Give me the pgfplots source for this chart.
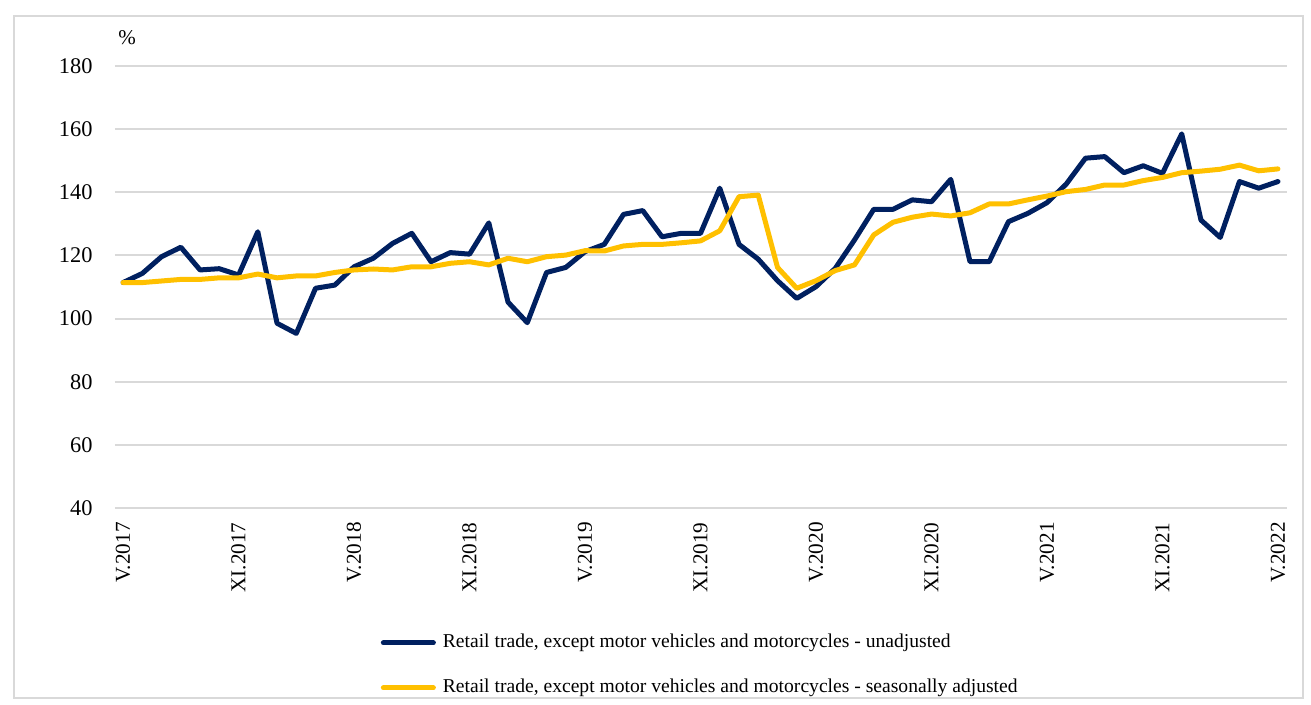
\documentclass[border=0pt]{standalone}
\usepackage{pgfplots}
\pgfplotsset{compat=1.18}
\usepackage{fontspec}
\setmainfont{Liberation Serif}
\definecolor{navy}{HTML}{002060}
\definecolor{gold}{HTML}{FFC000}
\definecolor{gridgray}{HTML}{D9D9D9}
\begin{document}
\begin{tikzpicture}
\begin{scope}[x=0.5pt,y=0.5pt]
\path[use as bounding box] (0,0) rectangle (1311,705);
\draw[gridgray, line width=0.8pt] (14,689) rectangle (1303,7);
\node[font=\fontsize{10.5}{12}\selectfont] at (127,667) {\%};
\end{scope}
\begin{axis}[
  at={(57.5pt,98.5pt)}, anchor=south west,
  scale only axis, width=586pt, height=221pt,
  xmin=-0.42, xmax=60.47, ymin=40, ymax=180,
  ytick={40,60,...,180},
  xtick={0,6,...,60},
  xticklabels={V.2017,XI.2017,V.2018,XI.2018,V.2019,XI.2019,V.2020,XI.2020,V.2021,XI.2021,V.2022},
  axis line style={draw=none},
  major tick length=0pt,
  ymajorgrids, xmajorgrids=false,
  grid style={draw=gridgray, line width=1pt},
  /pgf/number format/assume math mode=true,
  yticklabel style={font=\fontsize{11.2}{13}\selectfont, anchor=east, inner sep=0pt, xshift=-11pt},
  xticklabel style={font=\fontsize{10.6}{12}\selectfont, yshift=-7pt, rotate=90, anchor=east, inner sep=0pt},
  legend style={at={(0.2265,-0.356)}, anchor=west, draw=none, fill=none,
    font=\fontsize{9.8}{11}\selectfont, row sep=13.5pt, inner sep=0pt,
    nodes={inner sep=0pt, text height=7pt, text depth=2pt}},
  legend cell align=left,
  legend image code/.code={\draw[#1, line width=2.5pt, line cap=round] (0pt,0pt) -- (25pt,0pt); \path (28.5pt,0pt);},
  every axis plot/.append style={line width=2.5pt, line join=round, line cap=round},
]
\addplot[navy] coordinates {
(0,111.4)(1,114.3)(2,119.6)(3,122.6)(4,115.4)(5,115.8)(6,113.8)(7,127.5)(8,98.5)(9,95.3)
(10,109.6)(11,110.6)(12,116.4)(13,119.1)(14,123.8)(15,127.0)(16,118.0)(17,120.9)(18,120.4)(19,130.3)
(20,105.2)(21,98.7)(22,114.6)(23,116.2)(24,121.2)(25,123.5)(26,133.0)(27,134.2)(28,125.9)(29,127.0)
(30,127.0)(31,141.3)(32,123.5)(33,118.8)(34,112.0)(35,106.4)(36,110.1)(37,115.9)(38,124.9)(39,134.6)
(40,134.6)(41,137.6)(42,137.0)(43,144.1)(44,118.0)(45,118.0)(46,130.7)(47,133.3)(48,136.7)(49,142.6)
(50,150.8)(51,151.3)(52,146.2)(53,148.4)(54,146.0)(55,158.5)(56,131.2)(57,125.7)(58,143.4)(59,141.3)
(60,143.4)};
\addlegendentry{Retail trade, except motor vehicles and motorcycles - unadjusted}
\addplot[gold] coordinates {
(0,111.4)(1,111.4)(2,111.9)(3,112.4)(4,112.4)(5,112.9)(6,112.9)(7,114.1)(8,112.9)(9,113.5)
(10,113.5)(11,114.6)(12,115.4)(13,115.7)(14,115.4)(15,116.4)(16,116.4)(17,117.5)(18,118.0)(19,117.0)
(20,119.1)(21,118.0)(22,119.6)(23,120.1)(24,121.5)(25,121.4)(26,123.0)(27,123.5)(28,123.5)(29,124.0)
(30,124.6)(31,127.8)(32,138.6)(33,139.1)(34,116.2)(35,109.6)(36,112.0)(37,115.2)(38,117.0)(39,126.5)
(40,130.5)(41,132.1)(42,133.1)(43,132.5)(44,133.5)(45,136.3)(46,136.3)(47,137.6)(48,138.8)(49,140.2)
(50,140.9)(51,142.3)(52,142.3)(53,143.7)(54,144.7)(55,146.2)(56,146.7)(57,147.3)(58,148.6)(59,146.8)
(60,147.4)};
\addlegendentry{Retail trade, except motor vehicles and motorcycles - seasonally adjusted}
\end{axis}
\end{tikzpicture}
\end{document}
